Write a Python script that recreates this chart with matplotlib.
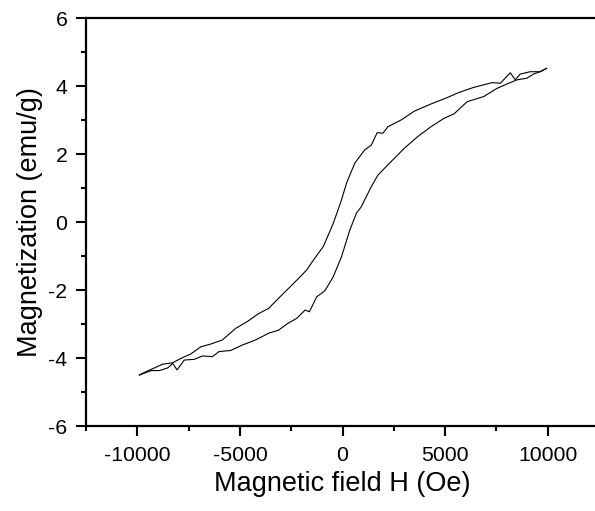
import matplotlib
matplotlib.use("Agg")
import matplotlib.pyplot as plt
from matplotlib.ticker import MultipleLocator

plt.rcParams['font.family'] = ['Liberation Sans', 'DejaVu Sans']
plt.rcParams['axes.unicode_minus'] = False

# descending branch (H from +10000 down to -10000)
H_down = [9950, 9630, 9145, 8660, 8418, 8176, 7690, 7290, 6400, 5675, 5030, 4306,
          3500, 2854, 2210, 1968, 1693, 1403, 1080, 597, 194, -48, -450, -934,
          -1418, -1742, -2225, -2709, -3111, -3595, -4079, -4644, -5210, -5854,
          -6420, -6904, -7388, -7872, -8273, -8757, -9158, -9565, -9900]
M_down = [4.52, 4.42, 4.42, 4.35, 4.18, 4.39, 4.08, 4.10, 3.96, 3.81, 3.64, 3.47,
          3.26, 3.00, 2.80, 2.61, 2.63, 2.26, 2.12, 1.73, 1.14, 0.65, -0.04, -0.72,
          -1.12, -1.41, -1.71, -2.00, -2.24, -2.54, -2.69, -2.93, -3.13, -3.47,
          -3.59, -3.67, -3.88, -4.01, -4.14, -4.18, -4.29, -4.40, -4.50]

# ascending branch (H from -10000 up to +10000)
H_up = [-9900, -9323, -8920, -8515, -8273, -8063, -7708, -7224, -6822, -6338,
        -6014, -5453, -4886, -4240, -3595, -3111, -2709, -2225, -1823, -1613,
        -1258, -855, -450, -48, 355, 677, 919, 1080, 1403, 1727, 2290, 3015,
        3660, 4306, 4950, 5433, 6080, 6885, 7530, 8020, 8500, 8984, 9307, 9630, 9950]
M_up = [-4.50, -4.37, -4.37, -4.29, -4.16, -4.35, -4.06, -4.04, -3.94, -3.96,
        -3.81, -3.78, -3.62, -3.47, -3.27, -3.18, -3.00, -2.83, -2.59, -2.64,
        -2.20, -2.02, -1.61, -1.02, -0.24, 0.26, 0.45, 0.65, 1.04, 1.38, 1.73, 2.17,
        2.51, 2.80, 3.05, 3.18, 3.54, 3.69, 3.93, 4.06, 4.18, 4.23, 4.35, 4.42, 4.52]

fig = plt.figure(figsize=(5.95, 5.11), dpi=100)
ax = fig.add_axes([86/595, 85/511, (599-86)/595, (426-18)/511])

ax.plot(H_down, M_down, color='black', lw=0.8)
ax.plot(H_up, M_up, color='black', lw=0.8)

ax.set_xlim(-12500, 12500)
ax.set_ylim(-6, 6)
ax.xaxis.set_major_locator(MultipleLocator(5000))
ax.xaxis.set_minor_locator(MultipleLocator(2500))
ax.yaxis.set_major_locator(MultipleLocator(2))
ax.yaxis.set_minor_locator(MultipleLocator(1))
ax.tick_params(which='major', direction='out', length=7.5, width=1.5,
               labelsize=15.3, pad=6)
ax.tick_params(which='minor', direction='out', length=3.8, width=1.5)
ax.tick_params(axis='x', which='major', pad=7)
for s in ax.spines.values():
    s.set_linewidth(1.6)

ax.set_xlabel('Magnetic field H (Oe)', fontsize=19.5, labelpad=4)
ax.set_ylabel('Magnetization (emu/g)', fontsize=19.5, labelpad=4)

fig.savefig('out.png', dpi=100)
